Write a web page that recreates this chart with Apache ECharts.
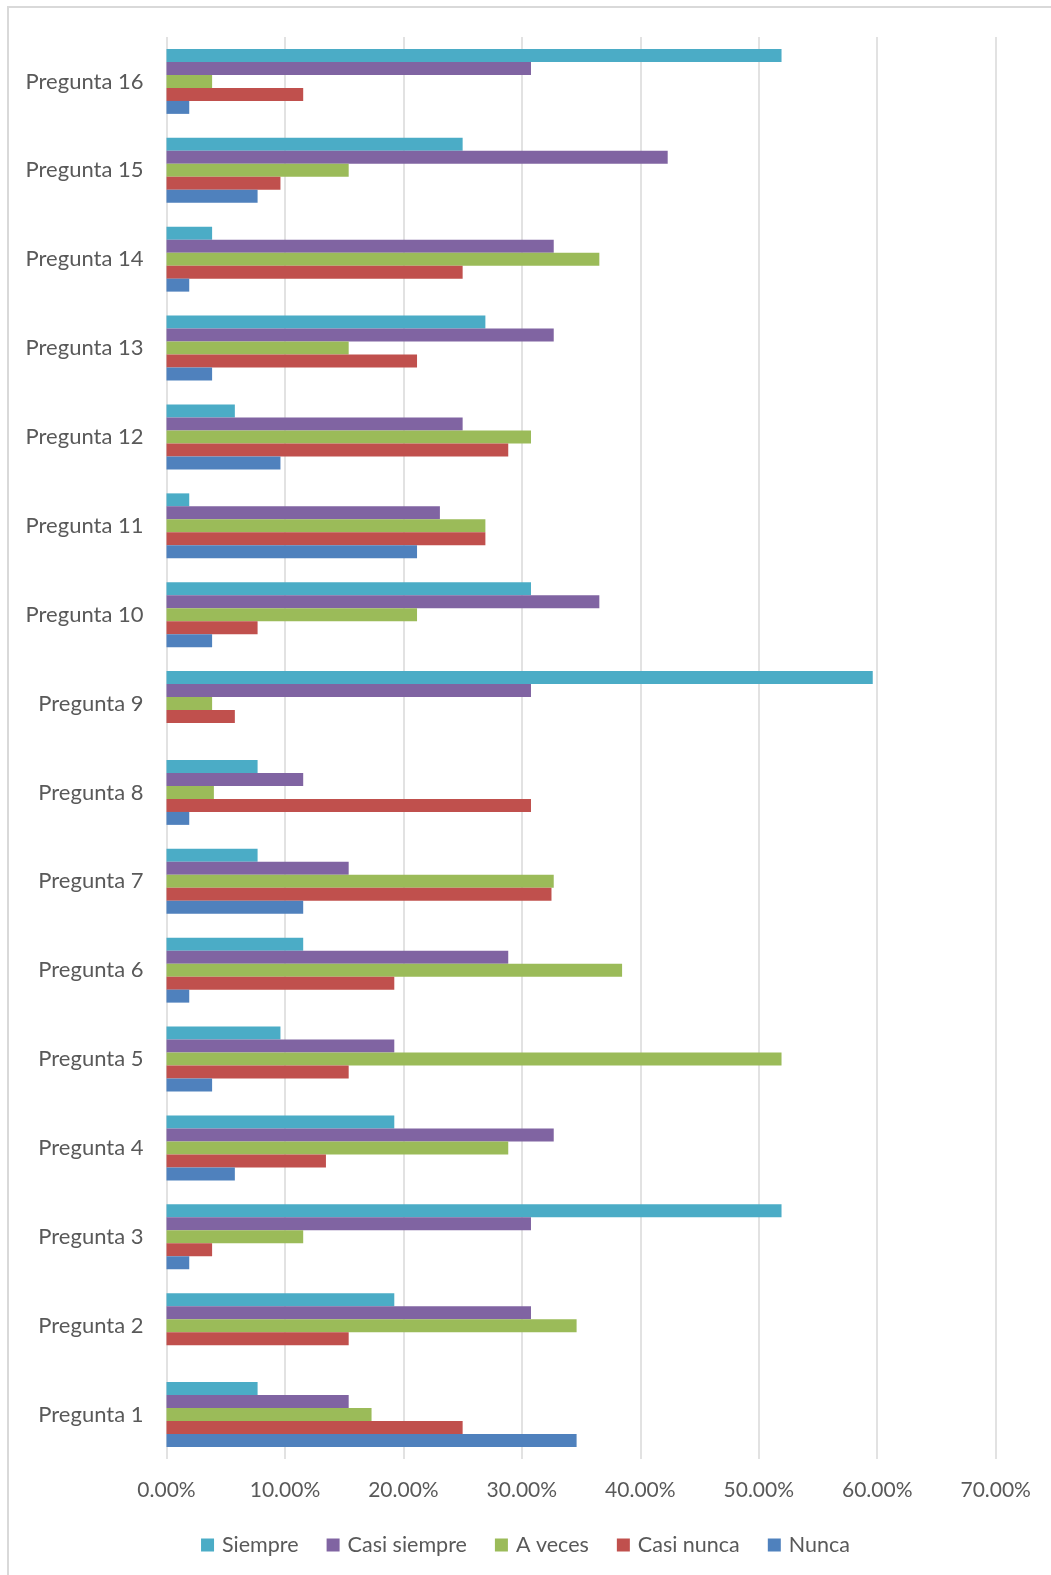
<!DOCTYPE html>
<html lang="es">
<head>
<meta charset="UTF-8" />
<title>Preguntas</title>
<script src="https://cdn.jsdelivr.net/npm/echarts@6/dist/echarts.min.js"></script>
<style>
  html, body { margin: 0; padding: 0; background: #fff; }
  #chart { width: 1051px; height: 1575px; }
</style>
</head>
<body>
<div id="chart"></div>
<script>
const preguntas = ['Pregunta 1', 'Pregunta 2', 'Pregunta 3', 'Pregunta 4', 'Pregunta 5', 'Pregunta 6', 'Pregunta 7', 'Pregunta 8',
  'Pregunta 9', 'Pregunta 10', 'Pregunta 11', 'Pregunta 12', 'Pregunta 13', 'Pregunta 14', 'Pregunta 15', 'Pregunta 16']

// percentages, Pregunta 1 .. Pregunta 16
const siempre     = [7.69, 19.23, 51.92, 19.23, 9.62, 11.54, 7.69, 7.69, 59.62, 30.77, 1.92, 5.77, 26.92, 3.85, 25.00, 51.92]
const casiSiempre = [15.38, 30.77, 30.77, 32.69, 19.23, 28.85, 15.38, 11.54, 30.77, 36.54, 23.08, 25.00, 32.69, 32.69, 42.31, 30.77]
const aVeces      = [17.31, 34.62, 11.54, 28.85, 51.92, 38.46, 32.69, 4.00, 3.85, 21.15, 26.92, 30.77, 15.38, 36.54, 15.38, 3.85]
const casiNunca   = [25.00, 15.38, 3.85, 13.46, 15.38, 19.23, 32.50, 30.77, 5.77, 7.69, 26.92, 28.85, 21.15, 25.00, 9.62, 11.54]
const nunca       = [34.62, 0, 1.92, 5.77, 3.85, 1.92, 11.54, 1.92, 0, 3.85, 21.15, 9.62, 3.85, 1.92, 7.69, 1.92]

const seriesNames = ['Siempre', 'Casi siempre', 'A veces', 'Casi nunca', 'Nunca']
const seriesData = [siempre, casiSiempre, aVeces, casiNunca, nunca]
const colors = ['#4BACC6', '#8064A2', '#9BBB59', '#C0504D', '#4F81BD']

const textColor = '#595959'
const fontFamily = 'Lato, "Open Sans", sans-serif'

const chart = echarts.init(document.getElementById('chart'), null, { renderer: 'canvas' })

const option = {
  animation: false,
  color: colors,
  textStyle: { fontFamily: fontFamily },
  graphic: [{
    type: 'rect',
    shape: { x: 8, y: 7, width: 1200, height: 1700 },
    style: { fill: 'none', stroke: '#d9d9d9', lineWidth: 2 },
    silent: true
  }],
  grid: { left: 166.5, right: 55.3, top: 37, bottom: 116, containLabel: false },
  legend: {
    data: seriesNames,
    bottom: 14,
    left: 'center',
    itemWidth: 13,
    itemHeight: 13,
    itemGap: 28,
    icon: 'rect',
    textStyle: { color: textColor, fontSize: 21.5, fontFamily: fontFamily, padding: [0, 0, 0, 3] }
  },
  xAxis: {
    type: 'value',
    min: 0,
    max: 70,
    interval: 10,
    axisLine: { show: false },
    axisTick: { show: false },
    splitLine: { lineStyle: { color: '#d9d9d9', width: 1.5 } },
    axisLabel: {
      color: textColor,
      fontSize: 21,
      margin: 21,
      formatter: v => v.toFixed(2) + '%'
    }
  },
  yAxis: {
    type: 'category',
    data: preguntas,
    axisLine: { show: false },
    axisTick: { show: false },
    axisLabel: { color: textColor, fontSize: 22, margin: 23 }
  },
  series: seriesNames.map((name, i) => ({
    name: name,
    type: 'bar',
    data: seriesData[i],
    barGap: '0%',
    barCategoryGap: '27%',
    itemStyle: { color: colors[i] }
  }))
}

chart.setOption(option)
</script>
</body>
</html>
